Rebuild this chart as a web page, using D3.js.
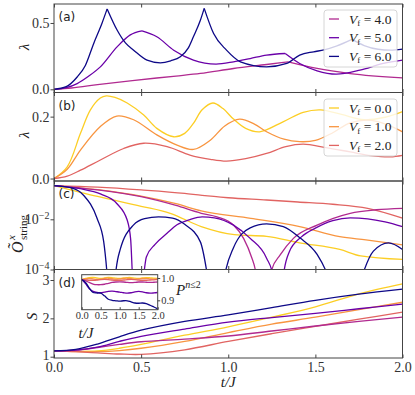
<!DOCTYPE html>
<html>
<head>
<meta charset="utf-8">
<style>
    body {
        margin: 0;
        background: #fff;
    }
    svg {
        display: block;
    }
    .tick text {
        font-family: "Liberation Serif", serif;
        font-size: 14px;
        fill: #333;
    }
    .tick line {
        stroke: #444;
    }
    .inset .tick text {
        font-size: 10.5px;
    }
    .frame {
        fill: none;
        stroke: #444;
        stroke-width: 1;
    }
    .series {
        fill: none;
        stroke-width: 1.3;
    }
    .math {
        font-family: "Liberation Serif", serif;
        fill: #222;
    }
    .panel-label {
        font-family: "DejaVu Sans", sans-serif;
        font-size: 12px;
        fill: #222;
    }
</style>
</head>
<body>
<script src="https://cdn.jsdelivr.net/npm/d3@7"></script>
<script>

    // ---- data ----
    var vfLabels = ["0.0", "1.0", "2.0", "4.0", "5.0", "6.0"];
    var xTicks = [0, 0.5, 1.0, 1.5, 2.0];

    // (a) lambda for V_f = 4, 5, 6 ; cusps are the kinks
    var lamA4 = [[0,0],[0.1,0.01],[0.25,0.035],[0.45,0.066],[0.7,0.1],[0.84,0.12],[1.03,0.157],[1.22,0.187],[1.344,0.207],[1.51,0.157],[1.7,0.119],[2.0,0.086]];
    var lamA5 = [[0,0],[0.07,0.012],[0.133,0.043],[0.2,0.1],[0.266,0.169],[0.362,0.32],[0.438,0.41],[0.505,0.44],[0.59,0.396],[0.687,0.295],[0.8,0.22],[0.93,0.19],[1.03,0.207],[1.126,0.232],[1.22,0.258],[1.327,0.27],[1.41,0.195],[1.51,0.139],[1.62,0.114],[1.756,0.144],[1.89,0.195],[2.0,0.22]];
    var lamA6 = [[0,0],[0.07,0.02],[0.133,0.093],[0.18,0.18],[0.228,0.346],[0.276,0.5],[0.305,0.606],[0.362,0.447],[0.41,0.35],[0.457,0.295],[0.534,0.22],[0.61,0.2],[0.67,0.215],[0.725,0.245],[0.77,0.31],[0.8,0.396],[0.84,0.52],[0.862,0.61],[0.916,0.42],[0.99,0.295],[1.07,0.207],[1.22,0.169],[1.336,0.195],[1.41,0.258],[1.49,0.283],[1.55,0.297],[1.62,0.325],[1.71,0.376],[1.78,0.33],[1.86,0.302],[1.93,0.295],[2.0,0.303]];
    var cuspA4 = [1.344];
    var cuspA5 = [0.505, 1.327];
    var cuspA6 = [0.305, 0.862, 1.71];

    // (b) lambda for V_f = 0, 1, 2
    var lamB0 = [[0,0],[0.076,0.038],[0.152,0.146],[0.209,0.222],[0.266,0.26],[0.3,0.267],[0.35,0.262],[0.42,0.244],[0.515,0.205],[0.59,0.162],[0.687,0.135],[0.75,0.146],[0.8,0.178],[0.85,0.222],[0.912,0.244],[0.97,0.226],[1.03,0.192],[1.1,0.162],[1.18,0.151],[1.317,0.184],[1.43,0.214],[1.53,0.222],[1.65,0.207],[1.78,0.19],[1.9,0.198],[2.0,0.216]];
    var lamB1 = [[0,0],[0.076,0.03],[0.152,0.092],[0.266,0.168],[0.36,0.202],[0.457,0.19],[0.59,0.141],[0.706,0.108],[0.8,0.094],[0.897,0.124],[0.98,0.17],[1.065,0.192],[1.15,0.176],[1.22,0.151],[1.32,0.127],[1.41,0.119],[1.5,0.123],[1.6,0.148],[1.7,0.18],[1.82,0.188],[1.92,0.172],[2.0,0.151]];
    var lamB2 = [[0,0],[0.076,0.008],[0.152,0.027],[0.266,0.06],[0.4,0.097],[0.515,0.114],[0.649,0.103],[0.78,0.076],[0.897,0.062],[0.99,0.056],[1.1,0.064],[1.22,0.081],[1.33,0.103],[1.43,0.111],[1.56,0.1],[1.7,0.086],[1.82,0.074],[1.93,0.07],[2.0,0.075]];

    // (c) string order parameter (log axis); 1e-7 marks a zero crossing
    var ord0 = [[0,0.221],[0.25,0.0813],[0.5,0.0331],[0.667,0.0174],[0.845,0.00513],[1.035,0.00245],[1.22,0.00209],[1.41,0.00115],[1.64,0.000631],[1.76,0.000347],[2.0,0.000251]];
    var ord1 = [[0,0.221],[0.25,0.151],[0.5,0.0832],[0.7,0.0417],[0.845,0.0219],[1.13,0.011],[1.41,0.00513],[1.64,0.00204],[1.79,0.00151],[2.0,0.000955]];
    var ord2 = [[0,0.221],[0.25,0.191],[0.5,0.148],[0.75,0.107],[0.85,0.0891],[1.0,0.0724],[1.22,0.0589],[1.4,0.049],[1.6,0.0398],[1.8,0.0275],[2.0,0.0112]];
    var ord4 = [[0,0.221],[0.25,0.148],[0.5,0.0794],[0.7,0.0355],[0.845,0.0174],[0.935,0.0126],[1.03,0.00589],[1.088,0.00174],[1.136,0.000282],[1.155,0.0001],[1.2,1e-7],[1.25,0.0001],[1.298,0.00038],[1.374,0.00174],[1.51,0.00589],[1.7,0.0174],[1.85,0.024],[2.0,0.0275]];
    var ord5 = [[0,0.221],[0.15,0.166],[0.27,0.1],[0.36,0.0427],[0.42,0.00933],[0.44,0.00158],[0.45,0.00006],[0.48,1e-7],[0.515,0.00006],[0.53,0.000316],[0.58,0.001],[0.65,0.00282],[0.706,0.00603],[0.78,0.0098],[0.85,0.0126],[0.92,0.0115],[1.03,0.00589],[1.126,0.00174],[1.22,0.000282],[1.256,0.00006],[1.287,1e-7],[1.317,0.00006],[1.35,0.0005],[1.42,0.002],[1.5,0.00447],[1.6,0.0089],[1.7,0.0115],[1.8,0.0105],[1.9,0.0079],[2.0,0.00513]];
    var ord6 = [[0,0.221],[0.1,0.178],[0.171,0.0891],[0.247,0.011],[0.285,0.00132],[0.305,0.00006],[0.33,1e-7],[0.353,0.00006],[0.38,0.000631],[0.457,0.00603],[0.52,0.0107],[0.6,0.0126],[0.68,0.0112],[0.75,0.00631],[0.84,0.00126],[0.88,0.00006],[0.93,1e-7],[0.98,0.00006],[1.03,0.00074],[1.126,0.00457],[1.22,0.0066],[1.316,0.00513],[1.413,0.00178],[1.51,0.000398],[1.57,0.00006],[1.67,1e-7],[1.77,0.00006],[1.833,0.000537],[1.92,0.00115],[2.0,0.000631]];

    // (d) entanglement entropy
    var tS = [0, 0.125, 0.25, 0.375, 0.5, 0.75, 1.0, 1.25, 1.5, 1.75, 2.0];
    var ent0 = [1.15, 1.14, 1.15, 1.22, 1.32, 1.56, 1.78, 2.03, 2.30, 2.64, 2.90];
    var ent1 = [1.15, 1.13, 1.13, 1.16, 1.22, 1.40, 1.63, 1.85, 2.03, 2.23, 2.42];
    var ent2 = [1.15, 1.13, 1.10, 1.07, 1.06, 1.18, 1.40, 1.60, 1.79, 1.98, 2.16];
    var ent4 = [1.15, 1.17, 1.24, 1.32, 1.39, 1.46, 1.54, 1.67, 1.80, 1.92, 2.03];
    var ent5 = [1.15, 1.17, 1.25, 1.40, 1.53, 1.72, 1.90, 2.02, 2.13, 2.25, 2.37];
    var ent6 = [1.15, 1.19, 1.33, 1.52, 1.69, 1.92, 2.09, 2.28, 2.47, 2.63, 2.76];

    // (d) inset: P(n<=2)
    var tP = [0,0.1,0.2,0.3,0.4,0.5,0.6,0.7,0.8,0.9,1.0,1.1,1.2,1.3,1.4,1.5,1.6,1.7,1.8,1.9,2.0];
    var prob0 = [0.993,0.998,1.002,1.003,1.0,0.998,1.0,1.003,1.002,0.999,0.998,1.0,1.002,1.002,0.999,0.998,1.0,1.002,1.001,0.999,0.998];
    var prob1 = [0.993,0.996,0.998,0.996,0.994,0.995,0.998,0.999,0.997,0.995,0.996,0.998,0.999,0.997,0.995,0.996,0.998,0.998,0.996,0.995,0.996];
    var prob2 = [0.993,0.992,0.99,0.99,0.991,0.993,0.994,0.993,0.991,0.99,0.99,0.991,0.993,0.994,0.993,0.991,0.99,0.99,0.991,0.992,0.993];
    var prob4 = [0.993,0.988,0.98,0.973,0.97,0.97,0.972,0.976,0.98,0.982,0.983,0.982,0.98,0.979,0.98,0.982,0.982,0.981,0.98,0.981,0.982];
    var prob5 = [0.993,0.975,0.952,0.94,0.935,0.934,0.937,0.94,0.941,0.939,0.937,0.934,0.932,0.934,0.938,0.94,0.938,0.934,0.932,0.933,0.935];
    var prob6 = [0.993,0.98,0.955,0.935,0.933,0.932,0.92,0.905,0.9,0.898,0.896,0.898,0.898,0.893,0.888,0.887,0.888,0.885,0.878,0.87,0.862];

    // ---- layout ----
    var width = 415,
        height = 395,
        left = 54,
        right = 402.5,
        panelH = 88.5,
        tops = [4, 92.5, 181, 269.5],
        tickLen = 3.5;

    var color = d3.scaleOrdinal()
        .domain(vfLabels)
        .range(["#fcce25", "#f89540", "#e16462", "#b12a90", "#6a00a8", "#0d0887"]);

    var smooth = d3.curveCatmullRom.alpha(0.5);

    var svg = d3.select("body").append("svg")
        .attr("width", width)
        .attr("height", height);

    var x = d3.scaleLinear().domain([0, 2]).range([left, right]);

    var yA = d3.scaleLinear().domain([-0.024, 0.643]).range([tops[0] + panelH, tops[0]]);
    var yB = d3.scaleLinear().domain([-0.008, 0.278]).range([tops[1] + panelH, tops[1]]);
    var yC = d3.scaleLog().domain([1e-4, 0.336]).range([tops[2] + panelH, tops[2]]);
    var yD = d3.scaleLinear().domain([0.966, 3.274]).range([tops[3] + panelH, tops[3]]);

    function clipFor(id, top) {
        svg.append("clipPath").attr("id", id)
          .append("rect")
            .attr("x", left).attr("y", top)
            .attr("width", right - left).attr("height", panelH);
    }

    function xAxes(top, showLabels) {
        svg.append("g")
            .attr("transform", "translate(0," + (top + panelH) + ")")
            .call(d3.axisBottom(x).tickValues(xTicks).tickSize(-tickLen).tickPadding(4.5)
                .tickFormat(showLabels ? d3.format(".1f") : ""))
            .call(function(g) { g.select(".domain").remove(); });
        svg.append("g")
            .attr("transform", "translate(0," + top + ")")
            .call(d3.axisTop(x).tickValues(xTicks).tickSize(-tickLen).tickFormat(""))
            .call(function(g) { g.select(".domain").remove(); });
    }

    function yAxis(scale, values, fmt) {
        return svg.append("g")
            .attr("transform", "translate(" + left + ",0)")
            .call(d3.axisLeft(scale).tickValues(values).tickSize(tickLen).tickPadding(1).tickFormat(fmt))
            .call(function(g) { g.select(".domain").remove(); });
    }

    function drawSeries(clipId, yScale, data, vf, curve) {
        var line = d3.line()
            .x(function(d) { return x(d[0]); })
            .y(function(d) { return yScale(d[1]); })
            .curve(curve);
        svg.append("path")
            .attr("class", "series")
            .attr("clip-path", "url(#" + clipId + ")")
            .attr("stroke", color(vf))
            .attr("d", line(data));
    }

    // split a curve at its kinks so each piece is smooth on its own
    function splitAt(data, cusps) {
        var pieces = [], cur = [];
        data.forEach(function(p) {
            cur.push(p);
            if (cusps.indexOf(p[0]) >= 0) {
                pieces.push(cur);
                cur = [p];
            }
        });
        pieces.push(cur);
        return pieces;
    }

    function legend(x0, y0, items) {
        var g = svg.append("g").attr("transform", "translate(" + x0 + "," + y0 + ")");
        g.append("rect")
            .attr("width", 73).attr("height", 57)
            .attr("rx", 3)
            .attr("fill", "white").attr("fill-opacity", 0.8)
            .attr("stroke", "#ccc").attr("stroke-width", 0.8);
        items.forEach(function(vf, i) {
            var yy = 9 + i * 18.7;
            g.append("line")
                .attr("x1", 5).attr("x2", 15)
                .attr("y1", yy).attr("y2", yy)
                .attr("stroke", color(vf)).attr("stroke-width", 1.3);
            var t = g.append("text")
                .attr("class", "math")
                .attr("x", 25).attr("y", yy + 4.5)
                .attr("font-size", 13.5);
            t.append("tspan").attr("font-style", "italic").text("V");
            t.append("tspan").attr("font-size", 9).attr("dy", 2.5).text("f");
            t.append("tspan").attr("dy", -2.5).text(" = " + vf);
        });
    }

    function frame(top) {
        svg.append("rect")
            .attr("class", "frame")
            .attr("x", left).attr("y", top)
            .attr("width", right - left).attr("height", panelH);
    }

    function panelLabel(txt, top) {
        svg.append("text")
            .attr("class", "panel-label")
            .attr("x", 58.5).attr("y", top + 17)
            .text(txt);
    }

    function rotLabel(cx, cy, size, txt) {
        svg.append("text")
            .attr("class", "math")
            .attr("transform", "translate(" + cx + "," + cy + ") rotate(-90)")
            .attr("text-anchor", "middle")
            .attr("font-size", size)
            .attr("font-style", "italic")
            .text(txt);
    }

    // ---- panel (a) ----
    clipFor("clipA", tops[0]);
    [[lamA4, cuspA4, "4.0"], [lamA5, cuspA5, "5.0"], [lamA6, cuspA6, "6.0"]].forEach(function(s) {
        splitAt(s[0], s[1]).forEach(function(piece) {
            drawSeries("clipA", yA, piece, s[2], d3.curveMonotoneX);
        });
    });
    legend(324, 10, ["4.0", "5.0", "6.0"]);
    yAxis(yA, [0, 0.5], d3.format(".1f"));
    xAxes(tops[0], false);
    frame(tops[0]);
    panelLabel("(a)", tops[0]);
    rotLabel(28.5, 47, 15, "λ");

    // ---- panel (b) ----
    clipFor("clipB", tops[1]);
    [[lamB0, "0.0"], [lamB1, "1.0"], [lamB2, "2.0"]].forEach(function(s) {
        drawSeries("clipB", yB, s[0], s[1], smooth);
    });
    legend(324, 99, ["0.0", "1.0", "2.0"]);
    yAxis(yB, [0, 0.2], d3.format(".1f"));
    xAxes(tops[1], false);
    frame(tops[1]);
    panelLabel("(b)", tops[1]);
    rotLabel(28.5, 135, 15, "λ");

    // ---- panel (c) ----
    clipFor("clipC", tops[2]);
    [[ord0, "0.0"], [ord1, "1.0"], [ord2, "2.0"], [ord4, "4.0"], [ord5, "5.0"], [ord6, "6.0"]].forEach(function(s) {
        drawSeries("clipC", yC, s[0], s[1], d3.curveMonotoneX);
    });
    var cAxis = yAxis(yC, [1e-4, 1e-2], "");
    cAxis.selectAll(".tick").each(function(d) {
        var t = d3.select(this).append("text")
            .attr("x", -4.5).attr("dy", "0.32em")
            .attr("text-anchor", "end");
        t.append("tspan").text("10");
        t.append("tspan").attr("font-size", 10).attr("dy", -5)
            .text("−" + Math.round(-Math.log10(d)));
    });
    xAxes(tops[2], false);
    frame(tops[2]);
    panelLabel("(c)", tops[2]);

    var oLab = svg.append("g").attr("transform", "translate(23,226) rotate(-90)");
    oLab.append("text").attr("class", "math")
        .attr("x", -27).attr("y", 0)
        .attr("font-size", 16).attr("font-style", "italic")
        .text("Õ");
    oLab.append("text").attr("class", "math")
        .attr("x", -14).attr("y", -8)
        .attr("font-size", 11).attr("font-style", "italic")
        .text("x");
    oLab.append("text").attr("class", "math")
        .attr("x", -14).attr("y", 4)
        .attr("font-size", 11)
        .text("string");

    // ---- panel (d) ----
    clipFor("clipD", tops[3]);
    [[ent0, "0.0"], [ent1, "1.0"], [ent2, "2.0"], [ent4, "4.0"], [ent5, "5.0"], [ent6, "6.0"]].forEach(function(s) {
        drawSeries("clipD", yD, tS.map(function(t, i) { return [t, s[0][i]]; }), s[1], smooth);
    });
    var dAxis = yAxis(yD, [1, 2, 3], d3.format("d"));
    // keep the lowest label clear of the 0.0 label below it
    dAxis.selectAll(".tick text").filter(function(d) { return d === 1; })
        .attr("dy", "0.22em").attr("font-size", 13.5);
    xAxes(tops[3], true);
    frame(tops[3]);
    panelLabel("(d)", tops[3]);
    rotLabel(36.5, 316.5, 15, "S");

    svg.append("text").attr("class", "math")
        .attr("x", (left + right) / 2).attr("y", 387)
        .attr("text-anchor", "middle")
        .attr("font-size", 15).attr("font-style", "italic")
        .text("t/J");

    // ---- inset of (d) ----
    var ix0 = 81.7, ix1 = 157.7, iy0 = 274.7, iy1 = 309.7;
    var xi = d3.scaleLinear().domain([0, 2]).range([ix0, ix1]);
    var yi = d3.scaleLinear().domain([0.858, 1.0148]).range([iy1, iy0]);

    svg.append("rect")
        .attr("x", ix0).attr("y", iy0)
        .attr("width", ix1 - ix0).attr("height", iy1 - iy0)
        .attr("fill", "white");
    svg.append("clipPath").attr("id", "clipI")
      .append("rect")
        .attr("x", ix0).attr("y", iy0)
        .attr("width", ix1 - ix0).attr("height", iy1 - iy0);

    var iline = d3.line()
        .x(function(d) { return xi(d[0]); })
        .y(function(d) { return yi(d[1]); })
        .curve(smooth);
    [[prob0, "0.0"], [prob1, "1.0"], [prob2, "2.0"], [prob4, "4.0"], [prob5, "5.0"], [prob6, "6.0"]].forEach(function(s) {
        svg.append("path")
            .attr("class", "series")
            .attr("clip-path", "url(#clipI)")
            .attr("stroke", color(s[1]))
            .attr("stroke-width", 1.2)
            .attr("d", iline(tP.map(function(t, i) { return [t, s[0][i]]; })));
    });

    var inset = svg.append("g").attr("class", "inset");
    inset.append("g")
        .attr("transform", "translate(0," + iy1 + ")")
        .call(d3.axisBottom(xi).tickValues(xTicks).tickSize(-2.5).tickPadding(2).tickFormat(d3.format(".1f")))
        .call(function(g) { g.select(".domain").remove(); });
    inset.append("g")
        .attr("transform", "translate(" + ix1 + ",0)")
        .call(d3.axisRight(yi).tickValues([0.9, 1.0]).tickSize(2.5).tickPadding(1).tickFormat(d3.format(".1f")))
        .call(function(g) { g.select(".domain").remove(); });
    inset.append("rect")
        .attr("class", "frame")
        .attr("x", ix0).attr("y", iy0)
        .attr("width", ix1 - ix0).attr("height", iy1 - iy0);

    var pLab = svg.append("text").attr("class", "math")
        .attr("x", 176).attr("y", 295)
        .attr("font-size", 15);
    pLab.append("tspan").attr("font-style", "italic").text("P");
    pLab.append("tspan").attr("font-size", 10).attr("dy", -7).attr("font-style", "italic").text("n");
    pLab.append("tspan").attr("font-size", 10).text("≤2");

    svg.append("text").attr("class", "math")
        .attr("x", 86).attr("y", 338)
        .attr("text-anchor", "middle")
        .attr("font-size", 15).attr("font-style", "italic")
        .text("t/J");
</script>
</body>
</html>
